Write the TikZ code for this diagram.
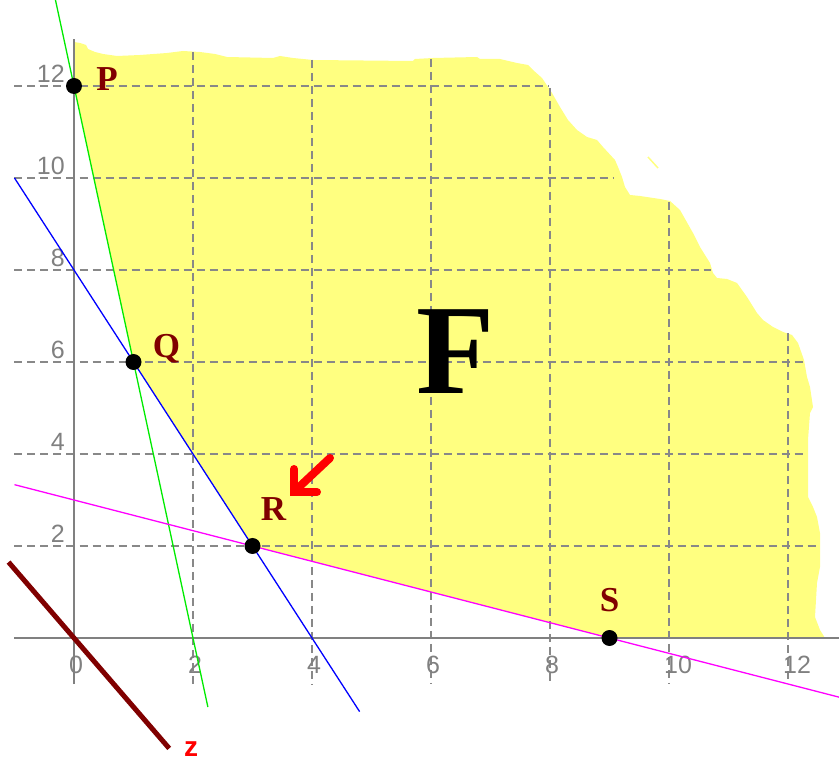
\documentclass[tikz,border=0pt]{standalone}
\usepackage{fontspec}
\setmainfont{Liberation Serif}
\newfontfamily\sansf{Liberation Sans}
\definecolor{fyellow}{RGB}{255,255,128}
\definecolor{gridgray}{RGB}{136,136,136}
\definecolor{tickgray}{RGB}{128,128,128}
\definecolor{maroonc}{RGB}{128,0,0}
\definecolor{lgreen}{RGB}{0,235,0}
\definecolor{lblue}{RGB}{0,0,255}
\definecolor{lmagenta}{RGB}{255,0,255}
\begin{document}
\begin{tikzpicture}[x=59.5pt,y=46pt,
  gridline/.style={gridgray, line width=1.7pt, dash pattern=on 8pt off 5pt},
  axisline/.style={tickgray, line width=1.8pt},
  cline/.style={line width=1.3pt},
  dot/.style={circle, fill=black, inner sep=0pt, minimum size=16pt},
  ticklabel/.style={tickgray, inner sep=0pt, font=\sansf\fontsize{25}{25}\selectfont},
  ptlabel/.style={maroonc, inner sep=0pt, font=\fontsize{35}{35}\selectfont\bfseries},
  biglabel/.style={black, inner sep=0pt, font=\fontsize{128}{128}\selectfont\bfseries},
  zlabel/.style={red, inner sep=0pt, font=\sansf\fontsize{28}{28}\selectfont\bfseries},
  arrowline/.style={red, line width=8pt, line cap=round, line join=miter}]
\useasboundingbox (-74pt,-126pt) rectangle (765pt,638pt);
% key points
\coordinate (P) at (0,12);
\coordinate (Q) at (1,6);
\coordinate (R) at (3,2);
\coordinate (S) at (9,0);
% feasible region (pixel coordinates)
\begin{scope}[x=1pt,y=-1pt,shift={(-74pt,638pt)}]
\fill[fyellow] (74,42) -- (80,43) -- (86,45) -- (88,49) -- (95,52) -- (103,54) -- (117,56) -- (140,55) -- (167,53) -- (183,51) -- (200,52) -- (215,54) -- (227,57) -- (273,58) -- (280,56) -- (293,58) -- (313,60) -- (413,61) -- (415,59) -- (433,58) -- (477,57) -- (480,59) -- (500,59) -- (517,63) -- (528,65) -- (533,70) -- (542,78) -- (548,87) -- (552,93) -- (560,107) -- (568,120) -- (577,130) -- (587,137) -- (597,140) -- (603,147) -- (615,160) -- (618,167) -- (622,177) -- (625,187) -- (630,195) -- (640,196) -- (660,199) -- (670,201) -- (680,210) -- (693,233) -- (700,247) -- (710,263) -- (713,273) -- (717,278) -- (727,279) -- (737,283) -- (747,297) -- (757,313) -- (763,320) -- (773,327) -- (783,332) -- (792,335) -- (798,343) -- (804,360) -- (807,377) -- (810,387) -- (813,407) -- (810,413) -- (808,440) -- (808,497) -- (813,507) -- (817,517) -- (820,533) -- (820,567) -- (817,583) -- (815,617) -- (820,630) -- (825,638) -- (S) -- (R) -- (Q) -- (P) -- cycle;
\coordinate (sp1) at (648,157);
\coordinate (sp2) at (658,168);
\draw[fyellow, line width=1.5pt] (sp1) -- (sp2);
\end{scope}
% grid
\foreach \yv/\xe in {2/12.54,4/12.30,6/12.29,8/10.71,10/9.06,12/7.97}{
  \coordinate (hl\yv) at (-1,\yv);
  \coordinate (hr\yv) at (\xe,\yv);
  \draw[gridline] (hl\yv) -- (hr\yv);
}
\foreach \xv/\ye in {2/12.74,4/12.57,6/12.59,8/11.96,10/9.48,12/6.63}{
  \coordinate (vb\xv) at (\xv,-1);
  \coordinate (vt\xv) at (\xv,\ye);
  \draw[gridline] (vt\xv) -- (vb\xv);
}
% axes
\coordinate (xa1) at (-1,0);
\coordinate (xa2) at (12.86,0);
\coordinate (ya1) at (0,-1);
\coordinate (ya2) at (0,13.02);
\draw[axisline] (xa1) -- (xa2);
\draw[axisline] (ya1) -- (ya2);
% tick labels
\foreach \v in {2,4,...,12}
  \node[ticklabel, anchor=east] (ty\v) at ([xshift=-9pt,yshift=12pt]0,\v) {\v};
\foreach \v in {0,2,...,12}
  \node[ticklabel, anchor=west] (tx\v) at ([xshift=-5pt,yshift=-27pt]\v,0) {\v};
% constraint lines
\coordinate (g1) at (-0.32,13.92);
\coordinate (g2) at (2.25,-1.5);
\draw[cline, lgreen] (g1) -- (g2);
\coordinate (b1) at (-1,10);
\coordinate (b2) at (4.8,-1.6);
\draw[cline, lblue] (b1) -- (b2);
\coordinate (m1) at (-1,3.3333);
\coordinate (m2) at (12.86,-1.2867);
\draw[cline, lmagenta] (m1) -- (m2);
% objective line
\coordinate (z1) at (-1.1,1.65);
\coordinate (z2) at (1.6,-2.4);
\draw[maroonc, line width=5pt] (z1) -- (z2);
% vertices
\node[dot] (Pd) at (P) {};
\node[dot] (Qd) at (Q) {};
\node[dot] (Rd) at (R) {};
\node[dot] (Sd) at (S) {};
\node[ptlabel, anchor=base] (lP) at ([xshift=33pt,yshift=-5pt]P) {P};
\node[ptlabel, anchor=base] (lQ) at ([xshift=33pt,yshift=4pt]Q) {Q};
\node[ptlabel, anchor=base] (lR) at ([xshift=21pt,yshift=25pt]R) {R};
\node[ptlabel, anchor=base] (lS) at ([xshift=0pt,yshift=27pt]S) {S};
\node[biglabel, anchor=base] (lF) at (6.42,5.326) {F};
% pixel-positioned items
\begin{scope}[x=1pt,y=-1pt,shift={(-74pt,638pt)}]
\node[zlabel, anchor=base] (lz) at (191,756) {z};
\coordinate (ash) at (330,458);
\coordinate (ase) at (298,488);
\coordinate (ah1) at (294,469);
\coordinate (atip) at (294,492);
\coordinate (ah2) at (317,492);
\draw[arrowline] (ash) -- (ase);
\draw[arrowline] (ah1) -- (atip) -- (ah2);
\end{scope}
\end{tikzpicture}
\end{document}
